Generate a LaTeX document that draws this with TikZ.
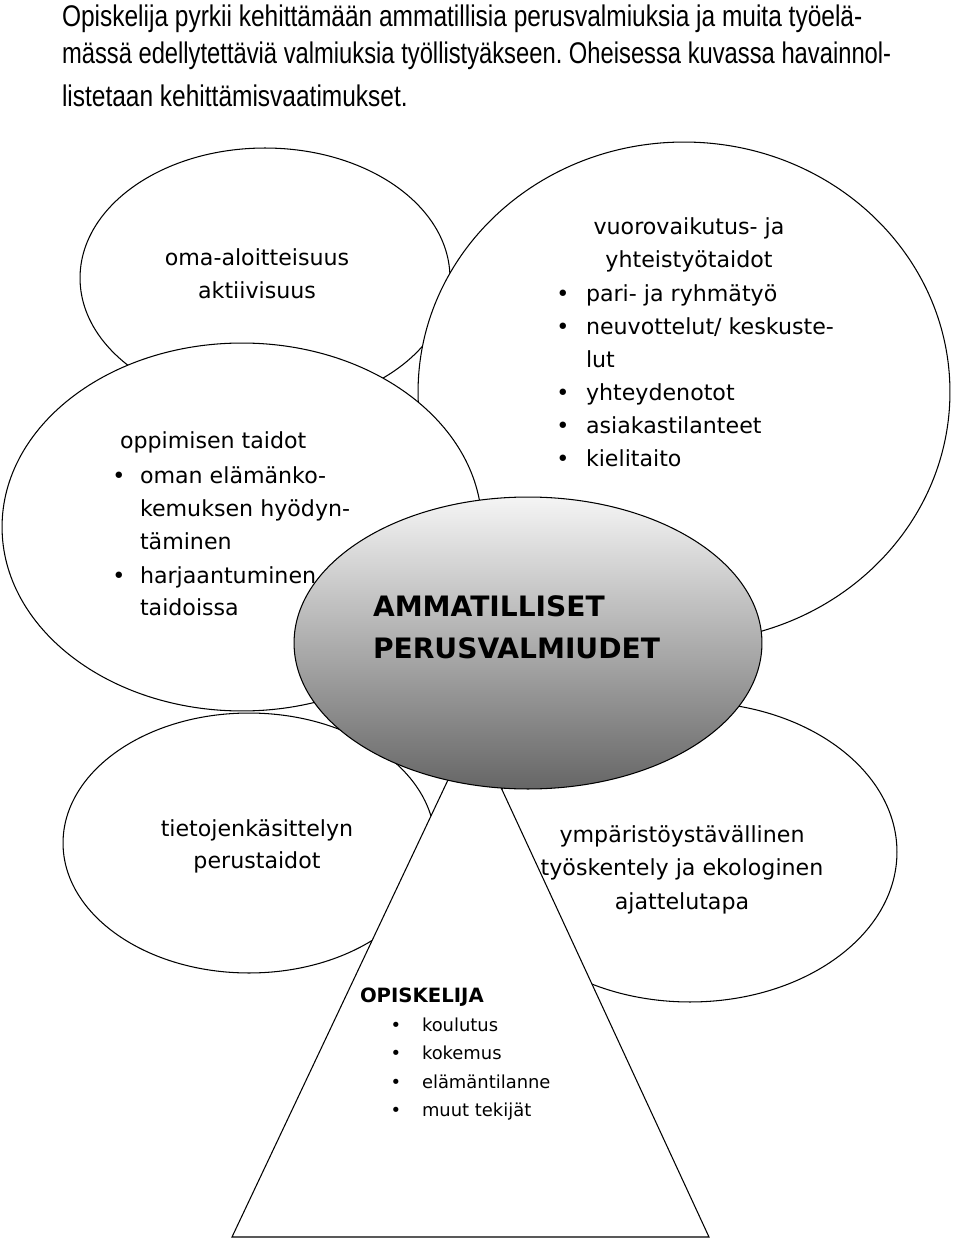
\documentclass[tikz,border=0pt]{standalone}
\usepackage{fontspec}
\setmainfont{DejaVu Sans}
\newfontfamily\titlefont[FakeStretch=0.82]{Liberation Sans}
\usetikzlibrary{shapes.geometric}
\frenchspacing
\begin{document}
\begin{tikzpicture}[x=0.02cm,y=-0.02cm,
  blob/.style={ellipse,draw=black,line width=0.6pt,fill=white,inner sep=0pt,outer sep=0pt},
  hub/.style={ellipse,draw=black,line width=0.6pt,top color=black!4,bottom color=black!60,inner sep=0pt,outer sep=0pt},
  edge/.style={draw=black,line width=0.6pt},
  ln/.style={inner sep=0pt,outer sep=0pt,font=\fontsize{12.6}{15}\selectfont},
  lnl/.style={ln,anchor=mid west},
  lnc/.style={ln,anchor=mid},
  bul/.style={ln,anchor=mid},
  big/.style={inner sep=0pt,outer sep=0pt,anchor=mid west,font=\bfseries\fontsize{16}{19}\selectfont},
  sm/.style={inner sep=0pt,outer sep=0pt,anchor=mid west,font=\fontsize{10.2}{12}\selectfont},
  smb/.style={inner sep=0pt,outer sep=0pt,anchor=mid,font=\fontsize{10.2}{12}\selectfont},
  smhead/.style={inner sep=0pt,outer sep=0pt,anchor=mid west,font=\bfseries\fontsize{11.2}{13}\selectfont},
  ttl/.style={inner sep=0pt,outer sep=0pt,anchor=mid west,font=\titlefont\fontsize{17}{20}\selectfont}]
\useasboundingbox (0,0) rectangle (960,1239);
\fill[white] (0,0) rectangle (960,1239);

% shapes, back to front
\node[blob,minimum width=7.4cm,minimum height=5.2cm] (A) at (265,278) {};
\node[blob,minimum width=10.64cm,minimum height=10cm] (B) at (684,392) {};
\node[blob,minimum width=9.6cm,minimum height=7.36cm] (C) at (242,527) {};
\node[blob,minimum width=7.44cm,minimum height=5.2cm] (E) at (249,843) {};
\node[blob,minimum width=8.28cm,minimum height=6cm] (F) at (690,852) {};
\coordinate (T1) at (473,727);
\coordinate (T2) at (232,1237);
\coordinate (T3) at (709,1237);
\filldraw[edge,fill=white] (T1) -- (T3) -- (T2) -- cycle;
\node[hub,minimum width=9.36cm,minimum height=5.84cm] (D) at (528,643) {};

% title
\node[ttl] (t1) at (62,22) {Opiskelija pyrkii kehittämään ammatillisia perusvalmiuksia ja muita työelä-};
\node[ttl] (t2) at (62,59) {\scalebox{0.97}[1]{mässä edellytettäviä valmiuksia työllistyäkseen. Oheisessa kuvassa havainnol-}};
\node[ttl] (t3) at (62,102) {listetaan kehittämisvaatimukset.};

% A
\node[lnc] (a1) at (257,261) {oma-aloitteisuus};
\node[lnc] (a2) at (257,294) {aktiivisuus};

% C
\node[lnl] (c1) at (120,444) {oppimisen taidot};
\node[bul] (cb1) at (119,479) {•};
\node[lnl] (c2) at (140,479) {oman elämänko-};
\node[lnl] (c3) at (140,512) {kemuksen hyödyn-};
\node[lnl] (c4) at (140,545) {täminen};
\node[bul] (cb2) at (119,579) {•};
\node[lnl] (c5) at (140,579) {harjaantuminen};
\node[lnl] (c6) at (140,611) {taidoissa};

% B
\node[lnc] (b1) at (689,230) {vuorovaikutus- ja};
\node[lnc] (b2) at (689,263) {yhteistyötaidot};
\node[bul] (bb1) at (563,297) {•};
\node[lnl] (b3) at (586,297) {pari- ja ryhmätyö};
\node[bul] (bb2) at (563,330) {•};
\node[lnl] (b4) at (586,330) {neuvottelut/ keskuste-};
\node[lnl] (b5) at (586,363) {lut};
\node[bul] (bb3) at (563,396) {•};
\node[lnl] (b6) at (586,396) {yhteydenotot};
\node[bul] (bb4) at (563,429) {•};
\node[lnl] (b7) at (586,429) {asiakastilanteet};
\node[bul] (bb5) at (563,462) {•};
\node[lnl] (b8) at (586,462) {kielitaito};

% D
\node[big] (d1) at (373,612) {AMMATILLISET};
\node[big] (d2) at (373,654) {PERUSVALMIUDET};

% E
\node[lnc] (e1) at (257,832) {tietojenkäsittelyn};
\node[lnc] (e2) at (257,864) {perustaidot};

% F
\node[lnc] (f1) at (682,838) {ympäristöystävällinen};
\node[lnc] (f2) at (682,871) {työskentely ja ekologinen};
\node[lnc] (f3) at (682,905) {ajattelutapa};

% triangle text
\node[smhead] (o1) at (360,998) {OPISKELIJA};
\node[smb] (ob1) at (396,1027) {•};
\node[sm] (o2) at (422,1027) {koulutus};
\node[smb] (ob2) at (396,1055) {•};
\node[sm] (o3) at (422,1055) {kokemus};
\node[smb] (ob3) at (396,1084) {•};
\node[sm] (o4) at (422,1084) {elämäntilanne};
\node[smb] (ob4) at (396,1112) {•};
\node[sm] (o5) at (422,1112) {muut tekijät};
\end{tikzpicture}
\end{document}
